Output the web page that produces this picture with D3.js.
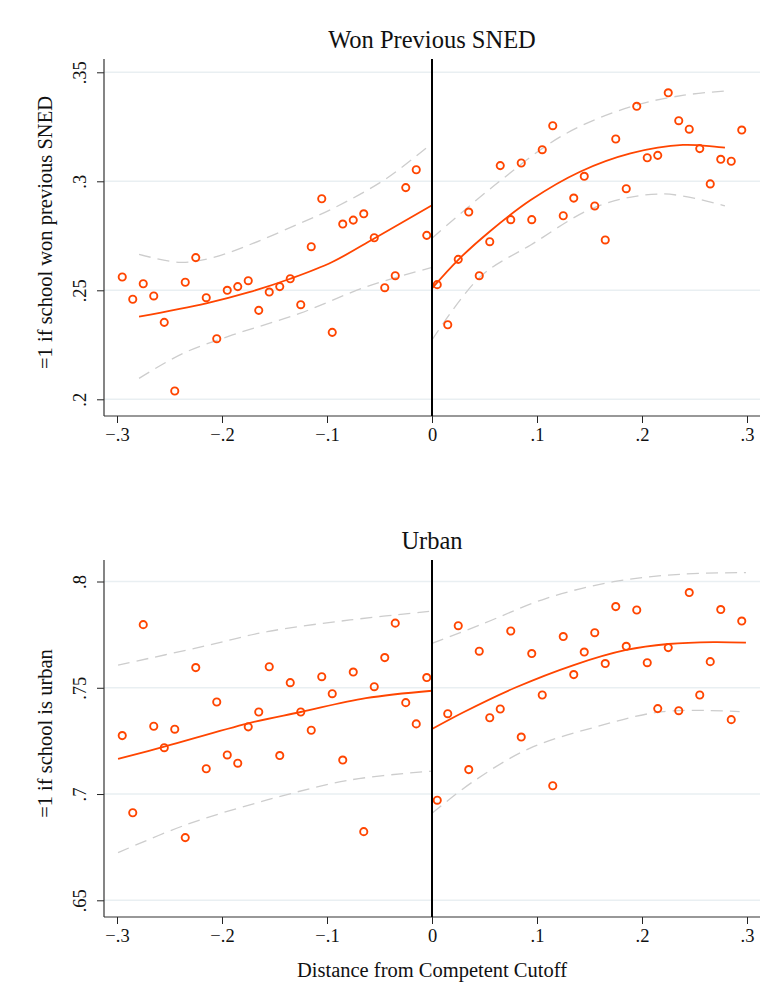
<!DOCTYPE html>
<html>
<head>
<meta charset="utf-8">
<script src="https://cdn.jsdelivr.net/npm/d3@7"></script>
<style>
  body { margin: 0; background: #fff; }
  svg text { font-family: "Liberation Serif", "Times New Roman", serif; fill: #111; }
</style>
</head>
<body>
<svg id="chart" width="769" height="1004"></svg>
<script>
// x ticks shared by both panels
const xTicks = [-0.3, -0.2, -0.1, 0, 0.1, 0.2, 0.3];
const xTickLabels = ["\u2212.3", "\u2212.2", "\u2212.1", "0", ".1", ".2", ".3"];

const snedTicks = [0.2, 0.25, 0.3, 0.35];
const snedTickLabels = [".2", ".25", ".3", ".35"];
const urbanTicks = [0.65, 0.7, 0.75, 0.8];
const urbanTickLabels = [".65", ".7", ".75", ".8"];

// bin midpoints
const binLeft = [-0.295, -0.285, -0.275, -0.265, -0.255, -0.245, -0.235, -0.225, -0.215, -0.205,
                 -0.195, -0.185, -0.175, -0.165, -0.155, -0.145, -0.135, -0.125, -0.115, -0.105,
                 -0.095, -0.085, -0.075, -0.065, -0.055, -0.045, -0.035, -0.025, -0.015, -0.005];
const binRight = [0.005, 0.015, 0.025, 0.035, 0.045, 0.055, 0.065, 0.075, 0.085, 0.095,
                  0.105, 0.115, 0.125, 0.135, 0.145, 0.155, 0.165, 0.175, 0.185, 0.195,
                  0.205, 0.215, 0.225, 0.235, 0.245, 0.255, 0.265, 0.275, 0.285, 0.295];

// binned means - won previous SNED
const snedLeft = [0.2561, 0.2459, 0.2530, 0.2474, 0.2353, 0.2038, 0.2537, 0.2650, 0.2466, 0.2278,
                  0.2500, 0.2517, 0.2544, 0.2408, 0.2492, 0.2517, 0.2553, 0.2434, 0.2700, 0.2920,
                  0.2307, 0.2804, 0.2822, 0.2851, 0.2741, 0.2512, 0.2567, 0.2971, 0.3053, 0.2752];
const snedRight = [0.2526, 0.2342, 0.2642, 0.2859, 0.2567, 0.2723, 0.3072, 0.2824, 0.3084, 0.2824,
                   0.3145, 0.3255, 0.2842, 0.2923, 0.3023, 0.2887, 0.2731, 0.3194, 0.2966, 0.3344,
                   0.3108, 0.3119, 0.3406, 0.3278, 0.3239, 0.3150, 0.2988, 0.3101, 0.3092, 0.3235];

// binned means - urban
const urbanLeft = [0.7275, 0.6912, 0.7797, 0.7319, 0.7218, 0.7305, 0.6795, 0.7595, 0.7119, 0.7433,
                   0.7184, 0.7145, 0.7316, 0.7386, 0.7599, 0.7181, 0.7524, 0.7386, 0.7300, 0.7552,
                   0.7472, 0.7160, 0.7574, 0.6823, 0.7505, 0.7642, 0.7804, 0.7430, 0.7330, 0.7548];
const urbanRight = [0.6971, 0.7378, 0.7792, 0.7115, 0.7672, 0.7359, 0.7400, 0.7767, 0.7268, 0.7661,
                    0.7466, 0.7039, 0.7741, 0.7562, 0.7668, 0.7759, 0.7614, 0.7882, 0.7695, 0.7866,
                    0.7618, 0.7402, 0.7689, 0.7392, 0.7948, 0.7466, 0.7623, 0.7868, 0.7350, 0.7814];

// fitted curves and confidence bands
const snedFitLeftX = [-0.279, -0.215, -0.175, -0.135, -0.095, -0.055, 0];
const snedFitLeft  = [0.2379, 0.2440, 0.2490, 0.2553, 0.2630, 0.2738, 0.2890];
const snedHiLeftX  = [-0.279, -0.240, -0.211, -0.170, -0.126, -0.094, -0.043, 0];
const snedHiLeft   = [0.2665, 0.2628, 0.2647, 0.2716, 0.2807, 0.2876, 0.3014, 0.3175];
const snedLoLeftX  = [-0.279, -0.237, -0.190, -0.126, -0.062, 0];
const snedLoLeft   = [0.2096, 0.2211, 0.2295, 0.2394, 0.2517, 0.2605];
const snedFitRightX = [0, 0.025, 0.055, 0.094, 0.141, 0.189, 0.239, 0.279];
const snedFitRight  = [0.2509, 0.2640, 0.2770, 0.2914, 0.3044, 0.3128, 0.3167, 0.3154];
const snedHiRightX  = [0, 0.062, 0.125, 0.189, 0.240, 0.279];
const snedHiRight   = [0.2739, 0.2991, 0.3212, 0.3342, 0.3395, 0.3414];
const snedLoRightX  = [0, 0.046, 0.094, 0.157, 0.220, 0.279];
const snedLoRight   = [0.2272, 0.2562, 0.2708, 0.2884, 0.2942, 0.2887];

const urbanFitLeftX = [-0.299, -0.255, -0.175, -0.125, -0.063, 0];
const urbanFitLeft  = [0.7165, 0.7223, 0.7333, 0.7386, 0.7451, 0.7486];
const urbanHiLeftX  = [-0.299, -0.221, -0.157, -0.078, 0];
const urbanHiLeft   = [0.7607, 0.7691, 0.7764, 0.7819, 0.7861];
const urbanLoLeftX  = [-0.299, -0.235, -0.157, -0.078, 0];
const urbanLoLeft   = [0.6724, 0.6854, 0.6972, 0.7066, 0.7108];
const urbanFitRightX = [0, 0.030, 0.079, 0.135, 0.185, 0.225, 0.268, 0.299];
const urbanFitRight  = [0.7306, 0.7385, 0.7500, 0.7607, 0.7678, 0.7706, 0.7715, 0.7712];
const urbanHiRightX  = [0, 0.046, 0.109, 0.173, 0.236, 0.299];
const urbanHiRight   = [0.7709, 0.7796, 0.7921, 0.7999, 0.8034, 0.8042];
const urbanLoRightX  = [0, 0.039, 0.093, 0.157, 0.220, 0.293];
const urbanLoRight   = [0.6909, 0.7058, 0.7215, 0.7317, 0.7388, 0.7388];

const orange = "#ff4500";
const svg = d3.select("#chart");

const x = d3.scaleLinear().domain([-0.3, 0.3]).range([117, 747]);
const plotLeft = 104, plotRight = 760;

function zip(xs, ys) { return xs.map((v, i) => [v, ys[i]]); }

function drawPanel(p) {
    const y = d3.scaleLinear().domain(p.yDomain).range(p.yRange);
    const g = svg.append("g");

    // grid
    g.selectAll(".grid").data(p.ticks).enter().append("line")
        .attr("x1", plotLeft).attr("x2", plotRight)
        .attr("y1", d => y(d)).attr("y2", d => y(d))
        .style("stroke", "#e9eff2").style("stroke-width", 1.6);

    // y axis
    const yAxis = g.append("g")
        .attr("transform", `translate(${plotLeft} 0)`)
        .call(d3.axisLeft(y).tickValues(p.ticks).tickSize(7)
            .tickFormat((d, i) => p.tickLabels[i]));
    yAxis.select(".domain").remove();
    yAxis.selectAll(".tick line").style("stroke", "#222");
    yAxis.selectAll(".tick text")
        .attr("x", null).attr("dy", null)
        .attr("transform", "translate(-18 0) rotate(-90)")
        .attr("text-anchor", "middle")
        .style("font-size", "18.5px");

    // x axis
    const xAxis = g.append("g")
        .attr("transform", `translate(0 ${p.bottom})`)
        .call(d3.axisBottom(x).tickValues(xTicks).tickSize(7).tickPadding(6)
            .tickFormat((d, i) => xTickLabels[i]));
    xAxis.select(".domain").remove();
    xAxis.selectAll(".tick line").style("stroke", "#222");
    xAxis.selectAll(".tick text").attr("dy", null).attr("y", 25)
        .style("font-size", "18.5px");

    g.append("line")
        .attr("x1", plotLeft).attr("x2", plotLeft).attr("y1", p.top).attr("y2", p.bottom)
        .style("stroke", "#333").style("stroke-width", 1.2);
    g.append("line")
        .attr("x1", plotLeft).attr("x2", plotRight).attr("y1", p.bottom).attr("y2", p.bottom)
        .style("stroke", "#333").style("stroke-width", 1.2);

    const line = d3.line().x(d => x(d[0])).y(d => y(d[1])).curve(d3.curveCatmullRom.alpha(0.5));

    // confidence bands
    [p.hiLeft, p.loLeft, p.hiRight, p.loRight].forEach(band => {
        g.append("path").datum(band).attr("d", line)
            .style("fill", "none").style("stroke", "#cdcdcd")
            .style("stroke-width", 1.3).style("stroke-dasharray", "12,7");
    });

    // fitted lines
    [p.fitLeft, p.fitRight].forEach(fit => {
        g.append("path").datum(fit).attr("d", line)
            .style("fill", "none").style("stroke", orange).style("stroke-width", 1.8);
    });

    // binned points
    g.selectAll(".pt").data(p.points).enter().append("circle")
        .attr("cx", d => x(d[0])).attr("cy", d => y(d[1])).attr("r", 3.6)
        .style("fill", "none").style("stroke", orange).style("stroke-width", 1.9);

    // cutoff line
    g.append("line")
        .attr("x1", x(0)).attr("x2", x(0)).attr("y1", p.top).attr("y2", p.bottom)
        .style("stroke", "#000").style("stroke-width", 2);

    // titles
    g.append("text").attr("x", 432).attr("y", p.top - 11)
        .attr("text-anchor", "middle").style("font-size", "24.5px").text(p.title);
    g.append("text")
        .attr("transform", `translate(52 ${(p.top + p.bottom) / 2 - 5}) rotate(-90)`)
        .attr("text-anchor", "middle").style("font-size", "20.5px").text(p.yTitle);
}

drawPanel({
    title: "Won Previous SNED",
    yTitle: "=1 if school won previous SNED",
    top: 59, bottom: 416,
    yDomain: [0.2, 0.35], yRange: [399.3, 72.3],
    ticks: snedTicks, tickLabels: snedTickLabels,
    points: zip(binLeft, snedLeft).concat(zip(binRight, snedRight)),
    fitLeft: zip(snedFitLeftX, snedFitLeft), fitRight: zip(snedFitRightX, snedFitRight),
    hiLeft: zip(snedHiLeftX, snedHiLeft), loLeft: zip(snedLoLeftX, snedLoLeft),
    hiRight: zip(snedHiRightX, snedHiRight), loRight: zip(snedLoRightX, snedLoRight)
});

drawPanel({
    title: "Urban",
    yTitle: "=1 if school is urban",
    top: 560, bottom: 917,
    yDomain: [0.65, 0.8], yRange: [900.3, 581.5],
    ticks: urbanTicks, tickLabels: urbanTickLabels,
    points: zip(binLeft, urbanLeft).concat(zip(binRight, urbanRight)),
    fitLeft: zip(urbanFitLeftX, urbanFitLeft), fitRight: zip(urbanFitRightX, urbanFitRight),
    hiLeft: zip(urbanHiLeftX, urbanHiLeft), loLeft: zip(urbanLoLeftX, urbanLoLeft),
    hiRight: zip(urbanHiRightX, urbanHiRight), loRight: zip(urbanLoRightX, urbanLoRight)
});

svg.append("text").attr("x", 432).attr("y", 977)
    .attr("text-anchor", "middle").style("font-size", "20.5px")
    .text("Distance from Competent Cutoff");
</script>
</body>
</html>
